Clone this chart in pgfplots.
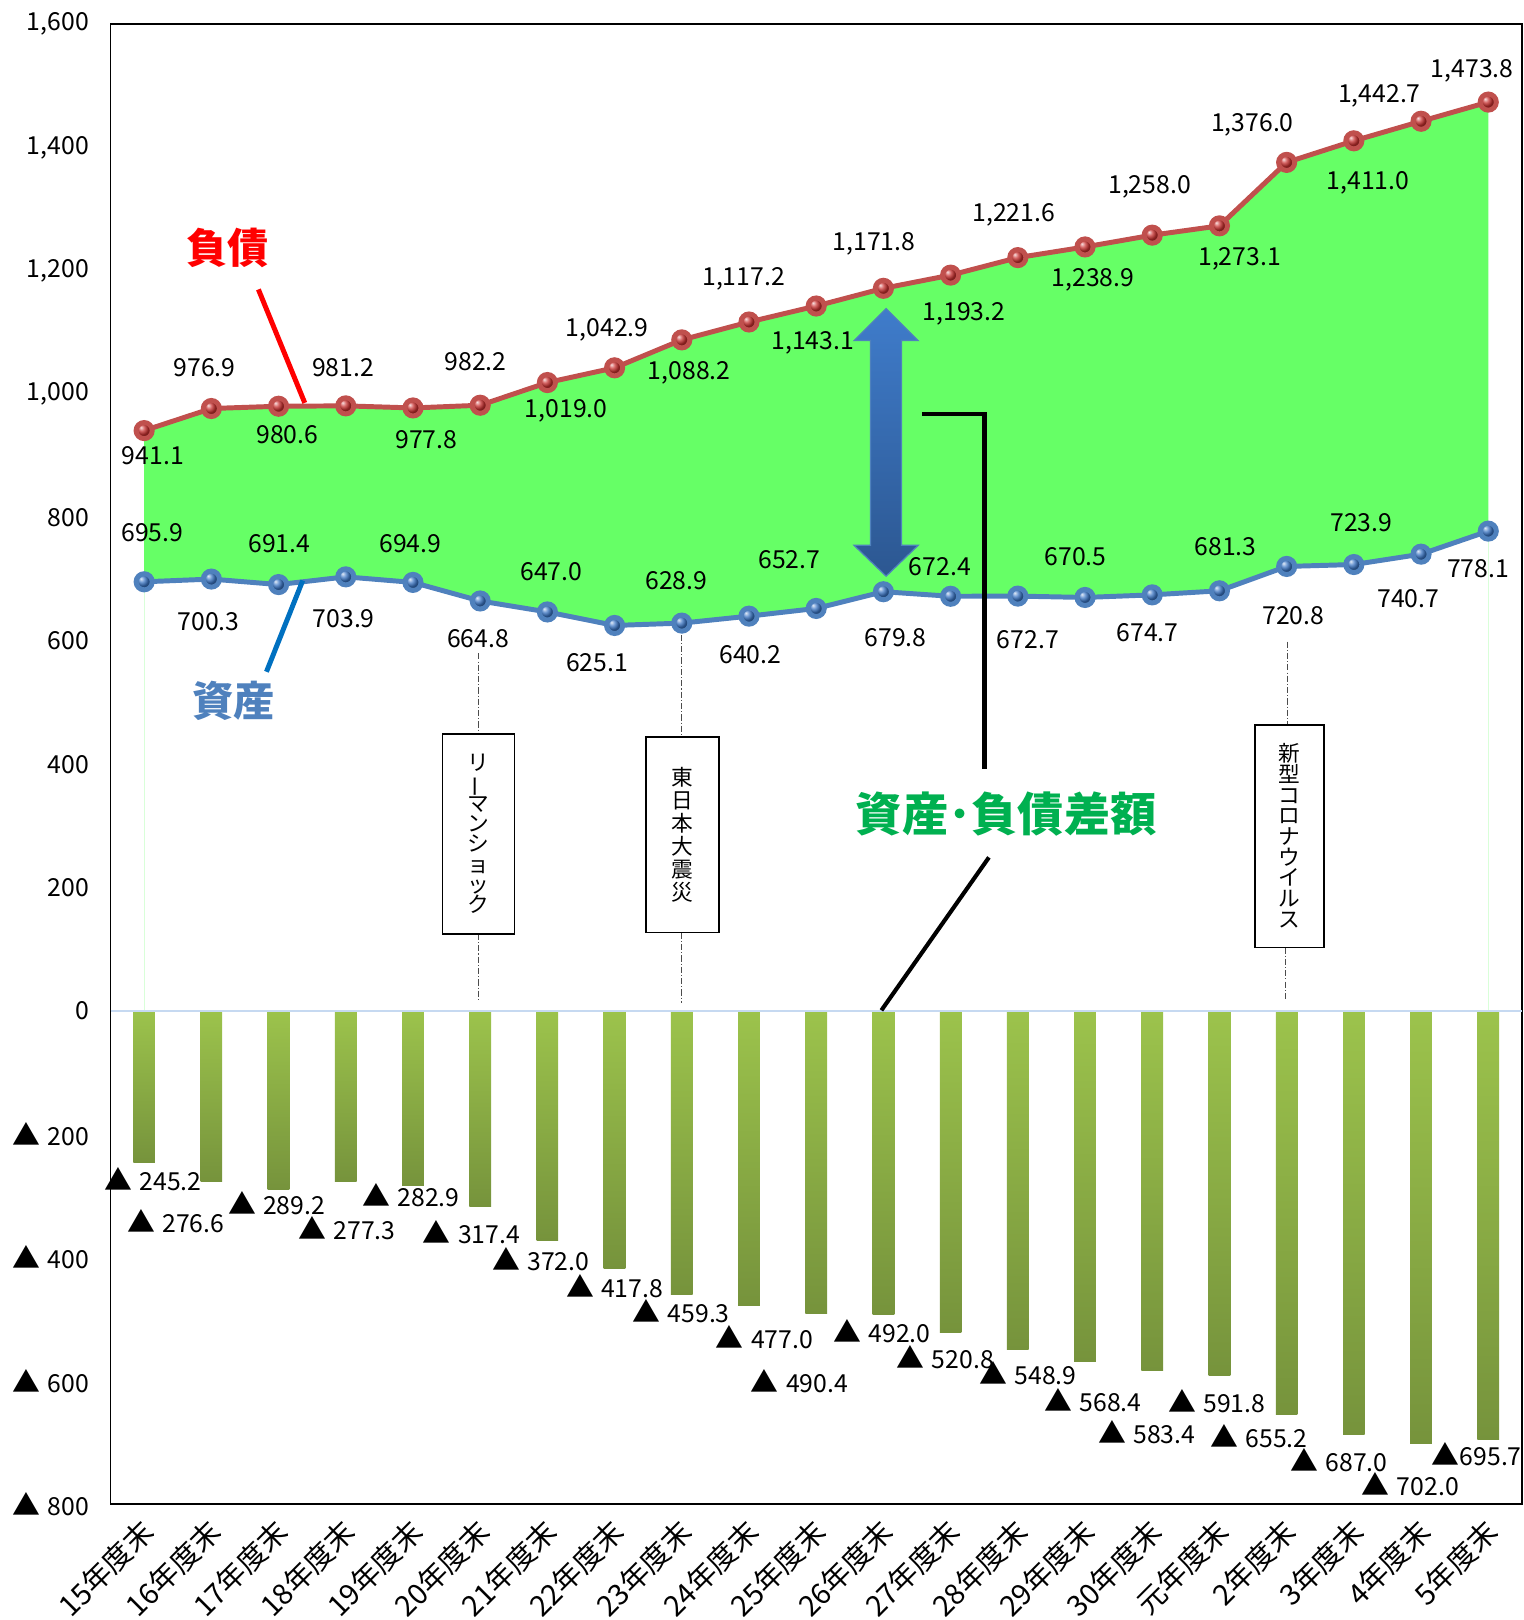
\documentclass[border=0pt]{standalone}
\usepackage{pgfplots}
\pgfplotsset{compat=1.18}
\usepackage{pgfplotstable}
\usepgfplotslibrary{fillbetween}
\usepackage{fontspec}
\setmainfont{Noto Sans CJK JP}

\definecolor{liabline}{HTML}{C0504D}
\definecolor{liabball}{HTML}{C8302F}
\definecolor{assetline}{HTML}{4F81BD}
\definecolor{assetball}{HTML}{3A75C4}
\definecolor{areagreen}{HTML}{66FF66}
\definecolor{bartop}{HTML}{9CC34C}
\definecolor{barbot}{HTML}{76933C}
\definecolor{zeroline}{HTML}{C6D9F1}
\definecolor{diffgreen}{HTML}{00B050}
\definecolor{arrowtop}{HTML}{3F7CCB}
\definecolor{arrowbot}{HTML}{2C5791}
\definecolor{asstext}{HTML}{4F81BD}
\definecolor{assleader}{HTML}{0070C0}

% x: 0 = 15年度末 ... 20 = 5年度末
\pgfplotstableread{
x liab asset diff
0 941.1 695.9 -245.2
1 976.9 700.3 -276.6
2 980.6 691.4 -289.2
3 981.2 703.9 -277.3
4 977.8 694.9 -282.9
5 982.2 664.8 -317.4
6 1019.0 647.0 -372.0
7 1042.9 625.1 -417.8
8 1088.2 628.9 -459.3
9 1117.2 640.2 -477.0
10 1143.1 652.7 -490.4
11 1171.8 679.8 -492.0
12 1193.2 672.4 -520.8
13 1221.6 672.7 -548.9
14 1238.9 670.5 -568.4
15 1258.0 674.7 -583.4
16 1273.1 681.3 -591.8
17 1376.0 720.8 -655.2
18 1411.0 723.9 -687.0
19 1442.7 740.7 -702.0
20 1473.8 778.1 -695.7
}\data

\newcommand\lblfont{\fontsize{12}{14}\selectfont}
\newcommand\bigbold{\fontsize{20}{22}\selectfont\bfseries}
\newcommand\trig{{\fontsize{13.5}{14}\selectfont ▲}}
\newcommand\tri{\trig\hspace{3.5pt}}
\newcommand\vl[3]{\node[font=\lblfont, inner sep=0pt] at (axis cs:#1,#2) {#3};}
% vertical text: one character per line
\newcommand\vtext[2]{\vbox{\fontsize{10.5}{#1}\selectfont\lineskiplimit-20pt\relax
  \halign{\hfil##\hfil\cr#2\crcr}}}
\newcommand\chouon{\rotatebox[origin=c]{90}{ー}}

\begin{document}
\begin{tikzpicture}
\begin{axis}[
    at={(0,0)}, anchor=south west,
    scale only axis,
    width=683pt, height=716.25pt,
    xmin=-0.5, xmax=20.5,
    ymin=-800, ymax=1600,
    xtick={0,...,20},
    xticklabels={15年度末,16年度末,17年度末,18年度末,19年度末,20年度末,21年度末,22年度末,23年度末,24年度末,25年度末,26年度末,27年度末,28年度末,29年度末,30年度末,元年度末,2年度末,3年度末,4年度末,5年度末},
    ytick={-800,-600,...,1600},
    yticklabels={\tri 800,\tri 600,\tri 400,\tri 200,0,200,400,600,800,{1,000},{1,200},{1,400},{1,600}},
    major tick length=0pt,
    axis line style={line width=0.8pt},
    yticklabel style={font=\lblfont, anchor=east, xshift=-7pt},
    xticklabel style={font=\fontsize{14}{16}\selectfont, xshift=-2.7pt, yshift=-6pt, rotate=45, anchor=north east, inner sep=0pt},
    clip=false,
]

% area between liabilities and assets
\addplot[draw=none, name path=L] table[x=x, y=liab] {\data};
\addplot[draw=none, name path=A] table[x=x, y=asset] {\data};
\addplot[fill=areagreen, draw=none] fill between[of=L and A];
\draw[areagreen!25, line width=0.5pt] (axis cs:0,0) -- (axis cs:0,695.9);
\draw[areagreen!25, line width=0.5pt] (axis cs:20,0) -- (axis cs:20,778.1);

% difference bars, one path each so that each gets its own gradient
\pgfplotsinvokeforeach{0,...,20}{
  \addplot[ybar, bar width=10.5pt, draw=none, top color=bartop, bottom color=barbot,
    x filter/.expression={abs(x-#1)<0.25 ? x : nan}] table[x=x, y=diff] {\data};
}
\draw[zeroline, line width=1pt] (axis cs:-0.5,0) -- (axis cs:20.5,0);

% lines
\addplot[liabline, line width=2.4pt, mark=ball, mark size=3.9pt,
  mark options={ball color=liabball}] table[x=x, y=liab] {\data};
\addplot[assetline, line width=2.4pt, mark=ball, mark size=3.9pt,
  mark options={ball color=assetball}] table[x=x, y=asset] {\data};

% liabilities labels
\vl{0.13}{900}{941.1}
\vl{0.90}{1043}{976.9}
\vl{2.13}{934}{980.6}
\vl{2.96}{1043}{981.2}
\vl{4.20}{927}{977.8}
\vl{4.93}{1053}{982.2}
\vl{6.28}{973}{1,019.0}
\vl{6.89}{1105}{1,042.9}
\vl{8.11}{1035}{1,088.2}
\vl{8.92}{1187}{1,117.2}
\vl{9.95}{1084}{1,143.1}
\vl{10.86}{1244}{1,171.8}
\vl{12.20}{1130}{1,193.2}
\vl{12.94}{1291}{1,221.6}
\vl{14.12}{1186}{1,238.9}
\vl{14.96}{1336}{1,258.0}
\vl{16.30}{1219}{1,273.1}
\vl{16.49}{1437}{1,376.0}
\vl{18.21}{1343}{1,411.0}
\vl{18.38}{1484}{1,442.7}
\vl{19.76}{1524}{1,473.8}

% assets labels
\vl{0.12}{775}{695.9}
\vl{0.96}{631}{700.3}
\vl{2.01}{758}{691.4}
\vl{2.97}{636}{703.9}
\vl{3.96}{758}{694.9}
\vl{4.97}{604}{664.8}
\vl{6.06}{713}{647.0}
\vl{6.74}{564}{625.1}
\vl{7.92}{697}{628.9}
\vl{9.02}{577}{640.2}
\vl{9.60}{731}{652.7}
\vl{11.18}{606}{679.8}
\vl{11.84}{721}{672.4}
\vl{13.15}{602}{672.7}
\vl{13.86}{736}{670.5}
\vl{14.93}{614}{674.7}
\vl{16.09}{753}{681.3}
\vl{17.10}{641}{720.8}
\vl{18.11}{792}{723.9}
\vl{18.81}{669}{740.7}
\vl{19.85}{718}{778.1}

% difference labels
\vl{0.13}{-272}{\tri 245.2}
\vl{0.47}{-341}{\tri 276.6}
\vl{1.97}{-312}{\tri 289.2}
\vl{3.02}{-353}{\tri 277.3}
\vl{3.97}{-299}{\tri 282.9}
\vl{4.87}{-359}{\tri 317.4}
\vl{5.90}{-403}{\tri 372.0}
\vl{7.00}{-447}{\tri 417.8}
\vl{7.99}{-487}{\tri 459.3}
\vl{9.23}{-529}{\tri 477.0}
\vl{9.75}{-601}{\tri 490.4}
\vl{10.98}{-520}{\tri 492.0}
\vl{11.92}{-562}{\tri 520.8}
\vl{13.15}{-587}{\tri 548.9}
\vl{14.12}{-631}{\tri 568.4}
\vl{14.92}{-683}{\tri 583.4}
\vl{15.96}{-632}{\tri 591.8}
\vl{16.59}{-689}{\tri 655.2}
\vl{17.78}{-729}{\tri 687.0}
\vl{18.84}{-768}{\tri 702.0}
\vl{19.83}{-719}{\trig 695.7}

% series annotations
\node[font=\bigbold, text=red] at (axis cs:1.24,1237) {負債};
\draw[red, line width=2.4pt] (axis cs:1.70,1170) -- (axis cs:2.39,986);
\node[font=\bigbold, text=asstext] at (axis cs:1.33,503) {資産};
\draw[assleader, line width=2.4pt] (axis cs:1.82,550) -- (axis cs:2.36,698);

% double arrow
\path[top color=arrowtop, bottom color=arrowbot, draw=assetline, line width=0.6pt]
  (axis cs:11.04,1139) -- (axis cs:11.5166,1087) -- (axis cs:11.2706,1087)
  -- (axis cs:11.2706,755) -- (axis cs:11.5166,755) -- (axis cs:11.04,705)
  -- (axis cs:10.5634,755) -- (axis cs:10.8094,755) -- (axis cs:10.8094,1087)
  -- (axis cs:10.5634,1087) -- cycle;
\draw[black, line width=2pt] (axis cs:11.58,967.6) -- (axis cs:12.505,967.6) -- (axis cs:12.505,392);
\draw[black, line width=2pt] (axis cs:12.57,249) -- (axis cs:10.97,1);
\node[font=\fontsize{22.4}{24}\selectfont\bfseries, text=diffgreen] at (axis cs:12.83,319) {資産･負債差額};

% events
\draw[black!70, line width=0.5pt, densely dash dot] (axis cs:4.97,580) -- (axis cs:4.97,449);
\draw[black!70, line width=0.5pt, densely dash dot] (axis cs:4.97,125) -- (axis cs:4.97,17);
\draw[black, line width=0.8pt, fill=white] (axis cs:4.44,449) rectangle (axis cs:5.51,125);
\node[inner sep=0pt] at (axis cs:4.975,287) {\vtext{9.8pt}{リ\cr\chouon\cr マ\cr ン\cr シ\cr ョ\cr ッ\cr ク}};

\draw[black!70, line width=0.5pt, densely dash dot] (axis cs:8.0,610) -- (axis cs:8.0,444);
\draw[black!70, line width=0.5pt, densely dash dot] (axis cs:8.0,127) -- (axis cs:8.0,13);
\draw[black, line width=0.8pt, fill=white] (axis cs:7.47,444) rectangle (axis cs:8.55,127);
\node[inner sep=0pt] at (axis cs:8.01,286) {\vtext{11.1pt}{東\cr 日\cr 本\cr 大\cr 震\cr 災}};

\draw[black!70, line width=0.5pt, densely dash dot] (axis cs:17.01,599) -- (axis cs:17.01,464);
\draw[black!70, line width=0.5pt, densely dash dot] (axis cs:16.99,103) -- (axis cs:16.99,16);
\draw[black, line width=0.8pt, fill=white] (axis cs:16.53,464) rectangle (axis cs:17.56,103);
\node[inner sep=0pt] at (axis cs:17.04,284) {\vtext{10pt}{新\cr 型\cr コ\cr ロ\cr ナ\cr ウ\cr イ\cr ル\cr ス}};

\end{axis}
\pgfresetboundingbox
\path[use as bounding box] (-53.5pt,-56pt) rectangle (684pt,728pt);
\end{tikzpicture}
\end{document}
